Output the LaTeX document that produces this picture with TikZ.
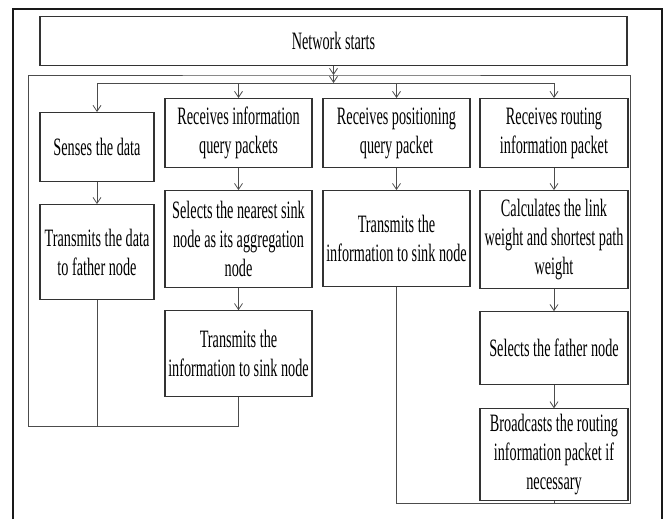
\documentclass[tikz,border=0pt]{standalone}
\usepackage{fontspec}
\setmainfont{Liberation Serif}[FakeStretch=0.57]
\usetikzlibrary{arrows.meta,positioning}
\tikzset{
    flowbox/.style={rectangle,draw=black!80,line width=1.1pt,align=center,inner xsep=1pt,inner ysep=2pt,font=\fontsize{25}{29}\selectfont},
    flowline/.style={-{Straight Barb[length=6pt,width=8pt]},line width=0.8pt,draw=black!70},
    loopline/.style={line width=0.9pt,draw=black!70},
    outerframe/.style={line width=1.5pt,draw=black!90}
}
\begin{document}
\begin{tikzpicture}[x=1pt,y=-1pt,node distance=22pt]
            \useasboundingbox (0,0) rectangle (668,519);
            \draw[outerframe] (13,519) |- (662,9) -- (662,519);
            \node[flowbox,anchor=north,minimum width=587pt,minimum height=49pt] (start) at (333.5,16) {Network starts};
            % first row
            \node[flowbox,anchor=north,minimum width=114pt,minimum height=69pt] (sense) at (97,112) {Senses the data};
            \node[flowbox,anchor=north,minimum width=147pt,minimum height=69pt] (query) at (238.5,98) {Receives information\\query packets};
            \node[flowbox,anchor=north,minimum width=147pt,minimum height=69pt] (posquery) at (396.5,98) {Receives positioning\\query packet};
            \node[flowbox,anchor=north,minimum width=148pt,minimum height=69pt] (routeinfo) at (554,98) {Receives routing\\information packet};
            % further steps
            \node[flowbox,minimum width=114pt,minimum height=95pt,below=of sense] (senddata) {Transmits the data\\to father node};
            \node[flowbox,minimum width=147pt,minimum height=97pt,below=of query] (nearest) {Selects the nearest sink\\node as its aggregation\\node};
            \node[flowbox,minimum width=147pt,minimum height=86pt,below=of nearest] (sendinfo) {Transmits the\\information to sink node};
            \node[flowbox,minimum width=147pt,minimum height=96pt,below=of posquery] (posinfo) {Transmits the\\information to sink node};
            \node[flowbox,minimum width=148pt,minimum height=98pt,below=of routeinfo] (linkweight) {Calculates the link\\weight and shortest path\\weight};
            \node[flowbox,minimum width=148pt,minimum height=73pt,below=of linkweight] (father) {Selects the father node};
            \node[flowbox,minimum width=148pt,minimum height=92pt,below=23pt of father] (broadcast) {Broadcasts the routing\\information packet if\\necessary};
            % loop points
            \coordinate (looptop) at (333.5,75);
            \coordinate (bus) at (333.5,83);
            \coordinate (joinleft) at (28,426);
            \coordinate (joinright) at (630,503);
            \draw[flowline] (start) -- (looptop);
            \draw[flowline] (looptop) -- (bus);
            \draw[loopline] (sense.north |- bus) -- (routeinfo.north |- bus);
            \foreach \n in {sense,query,posquery,routeinfo}
                \draw[flowline] (\n.north |- bus) -- (\n);
            \draw[flowline] (sense) -- (senddata);
            \draw[flowline] (query) -- (nearest);
            \draw[flowline] (nearest) -- (sendinfo);
            \draw[flowline] (posquery) -- (posinfo);
            \draw[flowline] (routeinfo) -- (linkweight);
            \draw[flowline] (linkweight) -- (father);
            \draw[flowline] (father) -- (broadcast);
            \draw[loopline] (senddata) -- (senddata |- joinleft);
            \draw[loopline] (sendinfo) -- (sendinfo |- joinleft) -- (joinleft) |- (looptop) -| (joinright) -- (posinfo |- joinright) -- (posinfo);
            \draw[loopline] (broadcast) -- (broadcast |- joinright);
        \end{tikzpicture}
\end{document}
